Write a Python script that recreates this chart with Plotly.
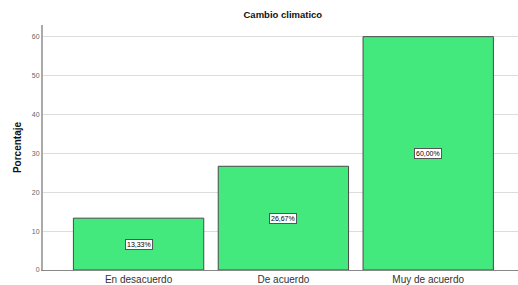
import plotly.graph_objects as go

categories = ["En desacuerdo", "De acuerdo", "Muy de acuerdo"]
values = [13.33, 26.67, 60.00]
labels = ["13,33%", "26,67%", "60,00%"]
y_ticks = [0, 10, 20, 30, 40, 50, 60]

fig = go.Figure()
fig.add_trace(go.Bar(
    x=categories, y=values, width=0.9,
    marker=dict(color="#43e97d", line=dict(color="#4a4a4a", width=1)),
    hoverinfo="skip",
))
for c, v, t in zip(categories, values, labels):
    fig.add_annotation(x=c, y=v / 2, text=t, showarrow=False,
                       font=dict(family="Arial, Liberation Sans", size=7, color="#000"),
                       bgcolor="white", bordercolor="#555", borderwidth=1, borderpad=1)

fig.update_layout(
    width=518, height=285,
    margin=dict(l=43, r=0, t=25, b=15),
    paper_bgcolor="white", plot_bgcolor="white",
    showlegend=False,
    title=dict(text="<b>Cambio climatico</b>", x=0.546, xanchor="center", y=0.947, yanchor="middle",
               font=dict(family="Arial, Liberation Sans", size=9.5, color="#111")),
    bargap=0.1,
)
fig.update_xaxes(range=[-0.66, 2.62], showline=True, linecolor="#888", linewidth=1,
                 showgrid=False, ticks="", automargin=False,
                 tickfont=dict(family="Arial, Liberation Sans", size=10, color="#333"))
fig.update_yaxes(range=[0, 63], tickvals=y_ticks, showline=True, linecolor="#aaa", linewidth=2,
                 showgrid=True, gridcolor="#dcdcdc", gridwidth=1, zeroline=False,
                 ticks="", automargin=False,
                 tickfont=dict(family="Arial, Liberation Sans", size=7, color="#666"),
                 title=dict(text="<b>Porcentaje</b>", standoff=8,
                            font=dict(family="Arial, Liberation Sans", size=10, color="#111")))

fig.write_html("out.html", config={"displayModeBar": False},
               post_script="document.body.style.margin='0';document.body.style.padding='0';")
